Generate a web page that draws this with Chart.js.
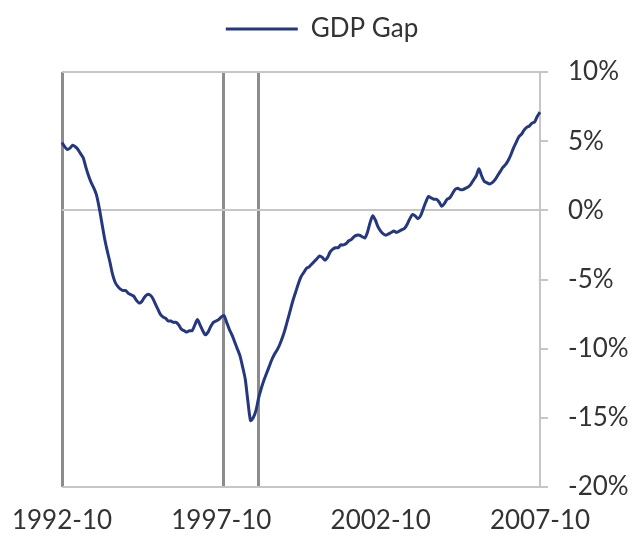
<!DOCTYPE html>
<html>
<head>
<meta charset="utf-8">
<script src="https://cdn.jsdelivr.net/npm/chart.js@4"></script>
<style>
  html, body { margin: 0; padding: 0; background: #ffffff; }
  #wrap { width: 644px; height: 542px; }
</style>
</head>
<body>
<div id="wrap"><canvas id="c" width="644" height="542"></canvas></div>
<script>
// ---- data ----
const seriesName = 'GDP Gap';
const startYear = 1992, startMonth = 10;
const gdpGap = [
  4.9, 4.6, 4.4, 4.5, 4.7, 4.6, 4.4, 4.1, 3.8, 3.1,
  2.5, 2.0, 1.6, 1.1, 0.2, -0.9, -2.0, -2.9, -3.7, -4.6,
  -5.2, -5.5, -5.7, -5.8, -5.8, -6.0, -6.1, -6.2, -6.5, -6.7,
  -6.6, -6.3, -6.1, -6.1, -6.3, -6.7, -7.1, -7.5, -7.7, -7.8,
  -8.0, -8.0, -8.1, -8.1, -8.3, -8.6, -8.7, -8.8, -8.7, -8.7,
  -8.3, -7.9, -8.3, -8.7, -9.0, -8.8, -8.4, -8.1, -8.0, -7.9,
  -7.7, -7.6, -8.1, -8.6, -9.0, -9.5, -10.0, -10.5, -11.3, -12.2,
  -13.8, -15.2, -15.0, -14.5, -13.6, -12.9, -12.3, -11.8, -11.3, -10.8,
  -10.4, -10.1, -9.7, -9.2, -8.6, -7.9, -7.2, -6.5, -5.9, -5.3,
  -4.8, -4.5, -4.2, -4.1, -3.9, -3.7, -3.5, -3.3, -3.4, -3.6,
  -3.4, -3.0, -2.8, -2.7, -2.7, -2.5, -2.5, -2.4, -2.2, -2.1,
  -1.9, -1.8, -1.8, -1.9, -2.0, -1.6, -0.9, -0.4, -0.7, -1.2,
  -1.5, -1.7, -1.8, -1.7, -1.6, -1.5, -1.6, -1.5, -1.4, -1.3,
  -1.0, -0.6, -0.3, -0.4, -0.6, -0.4, 0.1, 0.6, 1.0, 0.9,
  0.8, 0.8, 0.6, 0.3, 0.5, 0.8, 0.9, 1.2, 1.5, 1.6,
  1.5, 1.5, 1.6, 1.7, 1.9, 2.2, 2.5, 3.0, 2.5, 2.1,
  2.0, 1.9, 2.0, 2.2, 2.5, 2.8, 3.1, 3.3, 3.6, 4.0,
  4.5, 4.9, 5.3, 5.5, 5.8, 6.0, 6.1, 6.3, 6.4, 6.8,
  7.1
];
const xTickLabels = ['1992-10', '1997-10', '2002-10', '2007-10'];
const markerMonths = ['1992-10', '1997-11', '1998-12'];
const yTicks = [10, 5, 0, -5, -10, -15, -20];
const yGridValues = [10, 0, -20];

// month categories
const months = gdpGap.map((_, i) => {
  const m0 = startMonth - 1 + i;
  const y = startYear + Math.floor(m0 / 12);
  const m = (m0 % 12) + 1;
  return y + '-' + m;
});

const FONT = 'Lato, "Open Sans", sans-serif';
const TEXT = '#333333';

// adds space below the legend
const legendSpacer = {
  id: 'legendSpacer',
  beforeInit(chart) {
    const origFit = chart.legend.fit;
    chart.legend.fit = function () {
      origFit.bind(chart.legend)();
      this.height += 20;
    };
  }
};

new Chart(document.getElementById('c'), {
  type: 'line',
  data: {
    labels: months,
    datasets: [{
      label: seriesName,
      data: gdpGap,
      borderColor: '#25387f',
      backgroundColor: '#25387f',
      borderWidth: 3,
      pointRadius: 0,
      tension: 0.25,
      fill: false
    }]
  },
  plugins: [legendSpacer],
  options: {
    responsive: false,
    animation: false,
    devicePixelRatio: 1,
    layout: { padding: { top: 6, left: 0, right: 0, bottom: 0 } },
    plugins: {
      legend: {
        display: true,
        position: 'top',
        labels: {
          usePointStyle: true,
          pointStyle: 'line',
          pointStyleWidth: 72,
          color: TEXT,
          font: { family: FONT, size: 26 },
          padding: 10
        }
      },
      tooltip: { enabled: false }
    },
    scales: {
      x: {
        type: 'category',
        offset: false,
        border: { display: false },
        grid: {
          drawTicks: false,
          color: (ctx) => {
            const lab = months[ctx.index];
            return markerMonths.includes(lab) ? '#8c8c8c' : 'rgba(0,0,0,0)';
          },
          lineWidth: 3
        },
        ticks: {
          autoSkip: false,
          maxRotation: 0,
          minRotation: 0,
          padding: 18,
          color: TEXT,
          font: { family: FONT, size: 26 },
          callback: function (val, idx) {
            const lab = months[idx];
            return xTickLabels.includes(lab) ? lab : '';
          }
        },
        afterFit: (scale) => {
          scale.height = 55;
          scale.paddingLeft = 62;
          scale.paddingRight = 0;
        }
      },
      y: {
        position: 'right',
        min: -20,
        max: 10,
        afterBuildTicks: (scale) => { scale.ticks = yTicks.map(v => ({ value: v })); },
        border: { display: true, color: '#c6c6c6', width: 2 },
        grid: {
          drawTicks: true,
          tickLength: 8,
          tickColor: '#c6c6c6',
          lineWidth: 2,
          color: (ctx) => (ctx.tick && yGridValues.includes(ctx.tick.value)) ? '#c6c6c6' : 'rgba(0,0,0,0)'
        },
        ticks: {
          padding: 20,
          color: TEXT,
          font: { family: FONT, size: 26 },
          callback: (v) => v + '%'
        },
        afterFit: (scale) => { scale.width = 104; }
      }
    }
  }
});
</script>
</body>
</html>
